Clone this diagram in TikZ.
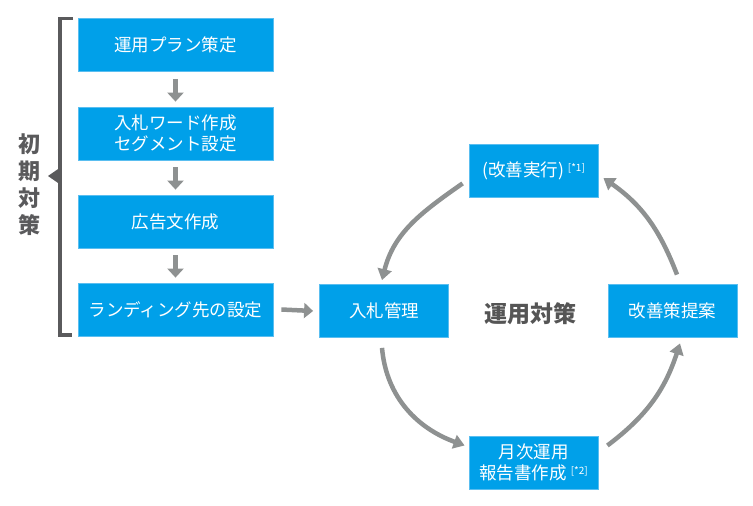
\documentclass[tikz,border=0pt]{standalone}
\usepackage{fontspec}
\setmainfont{Noto Sans CJK JP}
\usetikzlibrary{arrows.meta,calc}
\definecolor{boxblue}{RGB}{0,160,233}
\definecolor{boxedge}{RGB}{90,190,240}
\definecolor{arrgray}{RGB}{142,145,145}
\definecolor{brgray}{RGB}{90,90,92}
\definecolor{txtgray}{RGB}{85,85,85}
\tikzset{
  bluebox/.style={fill=boxblue, draw=boxedge, line width=0.8pt, text=white,
    minimum width=195pt, minimum height=53pt, inner sep=0pt, align=center,
    font=\fontsize{17.5}{21.5}\selectfont},
  smallbox/.style={bluebox, minimum width=129pt},
  downarr/.style={draw=arrgray, line width=5pt, -{Triangle[width=16pt,length=9pt]}},
  curvearr/.style={draw=arrgray, line width=4.5pt, -{Triangle[width=14pt,length=11pt]}},
}
\newcommand{\snote}[1]{\hspace{4pt}{\fontsize{10}{10}\selectfont\raisebox{5pt}{[*#1]}}}
\begin{document}
\begin{tikzpicture}[x=1pt,y=-1pt]
\useasboundingbox (0,0) rectangle (753,506);
% left column
\node[bluebox] (b1) at (175.5,45) {運用プラン策定};
\node[bluebox] (b2) at (175.5,133.5) {入札ワード作成\\セグメント設定};
\node[bluebox] (b3) at (175.5,221.5) {広告文作成};
\node[bluebox] (b4) at (175.5,309.5) {ランディング先の設定};
\draw[downarr] ([yshift=-7pt]b1.south) -- ([yshift=5pt]b2.north);
\draw[downarr] ([yshift=-7pt]b2.south) -- ([yshift=5pt]b3.north);
\draw[downarr] ([yshift=-7pt]b3.south) -- ([yshift=5pt]b4.north);
% right cycle
\node[smallbox] (nyu) at (384,311) {入札管理};
\node[smallbox] (kai) at (672.5,311) {改善策提案};
\node[smallbox] (jik) at (533.5,170.5) {(改善実行)\snote{1}};
\node[smallbox] (get) at (533.5,462.5) {月次運用\\報告書作成\snote{2}};
\node[text=txtgray, font=\fontsize{23}{23}\selectfont\bfseries] (center) at (530,314) {運用対策};
\draw[downarr, line width=4.5pt, -{Triangle[width=15pt,length=9pt]}] ([xshift=8pt]b4.east) -- ([xshift=-6pt]nyu.west);
% curved arrows
\draw[curvearr] ([shift={(-6,-14)}]jik.south west) to[out=215,in=76] ([shift={(-2,-4)}]nyu.north);
\draw[curvearr] ([shift={(-2,10)}]nyu.south) to[out=-85,in=160] ([shift={(-4,-17)}]get.west);
\draw[curvearr] ([shift={(9,-17)}]get.east) to[out=37,in=-108] ([shift={(7.5,5.5)}]kai.south);
\draw[curvearr] ([shift={(4.5,-9.5)}]kai.north) to[out=111,in=-35] ([shift={(5,7.5)}]jik.east);
% bracket
\draw[brgray, line width=3.3pt] (73,18.5) -- (60,18.5) -- (60,335) -- (72,335);
\fill[brgray] (61,167) -- (48,176) -- (61,185) -- cycle;
\node[text=brgray, font=\fontsize{22}{27}\selectfont\bfseries, align=center, inner sep=0pt] (shoki) at (29,185) {初\\期\\対\\策};
\end{tikzpicture}
\end{document}
